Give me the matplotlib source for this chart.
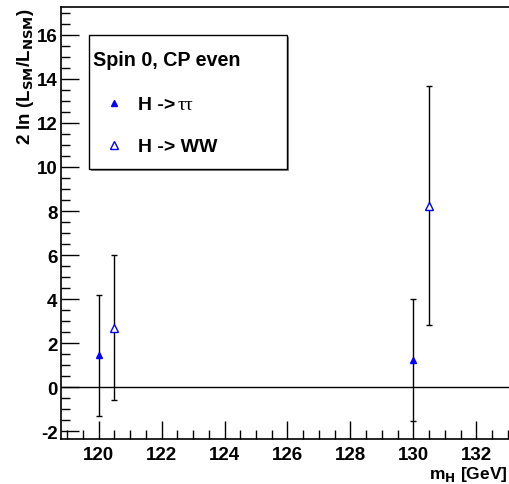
import matplotlib
matplotlib.use("Agg")
import matplotlib.pyplot as plt
from matplotlib.ticker import MultipleLocator
from matplotlib.patches import Rectangle
from matplotlib.lines import Line2D

plt.rcParams['font.family'] = ['Liberation Sans', 'DejaVu Sans']
plt.rcParams['font.weight'] = 'bold'
plt.rcParams['axes.unicode_minus'] = False

# Higgs mass points and 2 ln(L_SM/L_NSM) values with errors
mass_tautau = [120.0, 130.0]
llr_tautau = [1.45, 1.23]
err_tautau = [2.75, 2.75]

mass_ww = [120.5, 130.5]
llr_ww = [2.7, 8.24]
err_ww = [3.3, 5.42]

W, H = 509, 485
fig = plt.figure(figsize=(W / 100, H / 100), dpi=100)
fig.patch.set_facecolor('white')

def fx(px):
    return px / W

def fy(py):
    return 1 - py / H

left, right_px, top, bottom = 61, 536, 8, 440
ax = fig.add_axes([fx(left), fy(bottom), (right_px - left) / W, (bottom - top) / H])
ax.set_xlim(118.8, 133.9)
ax.set_ylim(-2.36, 17.27)

ax.spines['right'].set_visible(False)
for s in ['left', 'bottom', 'top']:
    ax.spines[s].set_linewidth(1.2)

ax.xaxis.set_major_locator(MultipleLocator(2))
ax.xaxis.set_minor_locator(MultipleLocator(0.5))
ax.yaxis.set_major_locator(MultipleLocator(2))
ax.yaxis.set_minor_locator(MultipleLocator(0.5))
ax.tick_params(which='both', direction='in', top=False, right=False, width=1)
ax.tick_params(which='major', length=13, labelsize=13.5)
ax.tick_params(which='minor', length=6.5)
ax.tick_params(axis='x', which='major', pad=5)
ax.tick_params(axis='y', which='major', pad=2.5)
for lab in ax.get_xticklabels() + ax.get_yticklabels():
    lab.set_fontweight('bold')

ax.axhline(0, color='black', lw=1)

ax.errorbar(mass_tautau, llr_tautau, yerr=err_tautau, fmt='^', color='blue',
            ms=5, ecolor='black', elinewidth=1, capsize=2, capthick=1, zorder=3)
ax.errorbar(mass_ww, llr_ww, yerr=err_ww, fmt='^', mfc='white', mec='blue',
            mew=1, ms=5.5, ecolor='black', elinewidth=1, capsize=2, capthick=1, zorder=3)

# axis titles
fig.text(fx(25), fy(8), r'2 ln (L$_{\mathbf{SM}}$/L$_{\mathbf{NSM}}$)', rotation=90,
         ha='center', va='top', fontsize=13.5, fontweight='bold')
fig.text(fx(508), fy(479), r'm$_{\mathbf{H}}$ [GeV]', ha='right', va='baseline',
         fontsize=12.5, fontweight='bold')

# legend box with shadow
bx0, by0, bx1, by1 = 89, 36, 287, 170
fig.patches.append(Rectangle((fx(bx0 + 1.5), fy(by1 + 1.5)), (bx1 - bx0) / W, (by1 - by0) / H,
                             transform=fig.transFigure, fc='#888888', ec='none', zorder=5))
fig.patches.append(Rectangle((fx(bx0), fy(by1)), (bx1 - bx0) / W, (by1 - by0) / H,
                             transform=fig.transFigure, fc='white', ec='black', lw=1, zorder=6))
fig.text(fx(93), fy(66), 'Spin 0, CP even', fontsize=14.2, fontweight='bold',
         ha='left', va='baseline', zorder=7)
fig.lines.append(Line2D([fx(114)], [fy(104)], marker='^', color='blue', ms=5,
                        transform=fig.transFigure, zorder=7))
fig.lines.append(Line2D([fx(114)], [fy(146)], marker='^', mfc='white', mec='blue', mew=1,
                        ms=5.5, transform=fig.transFigure, zorder=7))
fig.text(fx(138), fy(110), 'H ->', fontsize=14, fontweight='bold',
         ha='left', va='baseline', zorder=7)
fig.text(fx(178), fy(110), '\u03c4\u03c4', fontsize=14, fontweight='normal',
         family=['Liberation Serif', 'DejaVu Serif'], ha='left', va='baseline', zorder=7)
fig.text(fx(138), fy(152), 'H -> WW', fontsize=14, fontweight='bold',
         ha='left', va='baseline', zorder=7)

fig.savefig('out.png', dpi=100)
